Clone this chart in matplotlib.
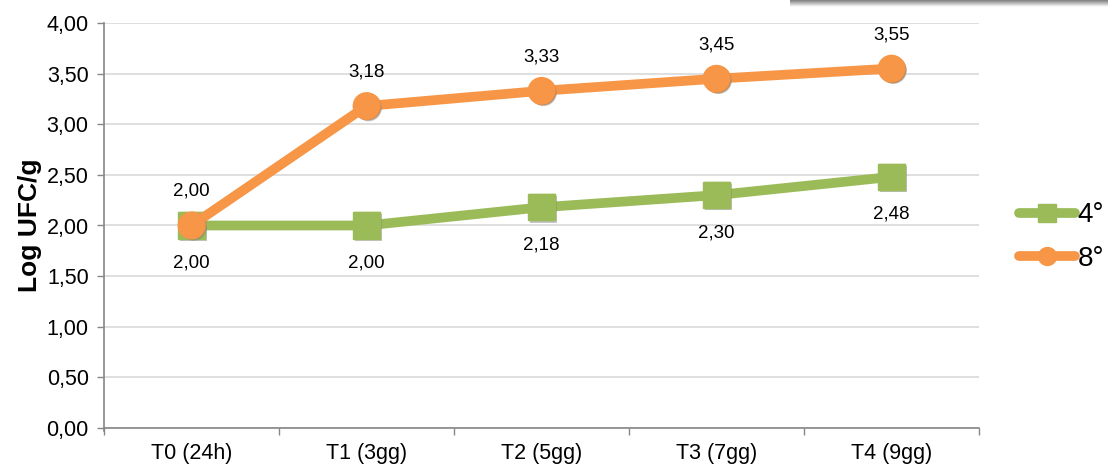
import matplotlib
matplotlib.use("Agg")
import matplotlib.pyplot as plt
import matplotlib.patheffects as pe
import numpy as np
from matplotlib.ticker import FuncFormatter, FixedLocator

plt.rcParams['font.family'] = ['Liberation Sans', 'DejaVu Sans']

categories = ["T0 (24h)", "T1 (3gg)", "T2 (5gg)", "T3 (7gg)", "T4 (9gg)"]
series_4 = [2.00, 2.00, 2.18, 2.30, 2.48]
series_8 = [2.00, 3.18, 3.33, 3.45, 3.55]
series_names = ["4°", "8°"]
y_label = "Log UFC/g"

GREEN = "#9BBB59"
ORANGE = "#F79646"

fig = plt.figure(figsize=(11.08, 4.65), dpi=100)
ax = fig.add_axes([104 / 1108, 37 / 465, 875 / 1108, 405 / 465])

x = np.arange(len(categories))
shadow = [pe.SimplePatchShadow(offset=(1.5, -1.5), shadow_rgbFace="#808080", alpha=0.45), pe.Normal()]

l4, = ax.plot(x, series_4, color=GREEN, lw=7, marker="s", ms=19, mfc=GREEN, mec=GREEN,
              solid_capstyle="round", zorder=3, label=series_names[0])
l8, = ax.plot(x, series_8, color=ORANGE, lw=7, marker="o", ms=19, mfc=ORANGE, mec=ORANGE,
              solid_capstyle="round", zorder=4, label=series_names[1])
# soft shadow under the markers
for line, vals, mk in ((l4, series_4, "s"), (l8, series_8, "o")):
    c = line.get_color()
    ax.plot(x, vals, ls="none", marker=mk, ms=19, mfc=c, mec=c,
            path_effects=shadow, zorder=line.get_zorder())

fmt = lambda v: f"{v:.2f}".replace(".", ",")
for xi, v in zip(x, series_4):
    ax.annotate(fmt(v), (xi, v), xytext=(0, -27), textcoords="offset points",
                ha="center", va="center", fontsize=13.5, color="#000000")
for xi, v in zip(x, series_8):
    ax.annotate(fmt(v), (xi, v), xytext=(0, 24.5), textcoords="offset points",
                ha="center", va="center", fontsize=13.5, color="#000000")

ax.set_xlim(-0.5, len(categories) - 0.5)
ax.set_ylim(0, 4)
ax.set_yticks(np.arange(0, 4.01, 0.5))
ax.yaxis.set_major_formatter(FuncFormatter(lambda v, p: fmt(v)))
ax.set_xticks(x)
ax.set_xticklabels(categories)
ax.xaxis.set_minor_locator(FixedLocator(np.arange(-0.5, len(categories), 1.0)))
ax.tick_params(axis="x", which="major", length=0, pad=11, labelsize=15.5)
ax.tick_params(axis="x", which="minor", length=5, width=1, color="#868686")
ax.tick_params(axis="y", length=5, width=1, color="#868686", labelsize=15.5, pad=6)

ax.grid(axis="y", color="#D9D9D9", lw=1.2, zorder=0)
ax.set_axisbelow(True)
for s in ("top", "right"):
    ax.spines[s].set_visible(False)
for s in ("left", "bottom"):
    ax.spines[s].set_color("#868686")
    ax.spines[s].set_linewidth(1.2)
ax.spines["left"].set_bounds(-0.03, 4)

ax.set_ylabel(y_label, fontsize=19, fontweight="bold", labelpad=3)

leg = fig.legend(handles=[l4, l8], labels=series_names, loc="center left",
                 bbox_to_anchor=(1019 / 1108, 1 - 237 / 465), frameon=False,
                 fontsize=20, handlelength=2.0, handletextpad=0.1, labelspacing=0.62,
                 markerscale=0.68, borderaxespad=0, borderpad=0)

# shaded edge of a box at the top right
gax = fig.add_axes([790 / 1108, 1 - 7 / 465, 318 / 1108, 7 / 465])
grad = np.linspace(0.5, 1.0, 20).reshape(-1, 1)
gax.imshow(grad, cmap="gray", vmin=0, vmax=1, aspect="auto", extent=(0, 1, 0, 1))
gax.set_axis_off()

fig.savefig("out.png", dpi=100)
